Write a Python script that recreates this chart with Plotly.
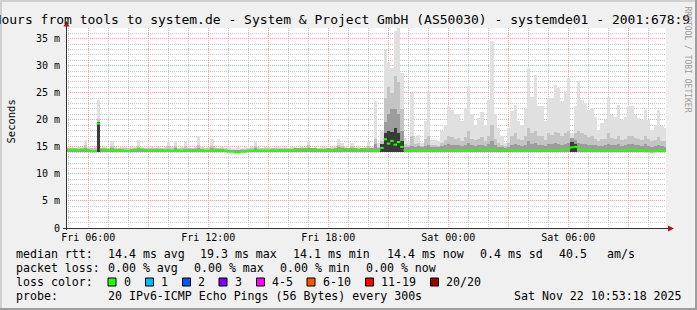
import plotly.graph_objects as go
import pandas as pd

# ---------------- data ----------------
# 10-minute bins over the last 30 hours
bin_start = pd.date_range("2025-11-21 04:56", periods=180, freq="10min")

smoke_floor = 14.1  # fastest ping (ms)

light_top = [
    14.9, 15.0, 14.8, 14.9, 15.0, 16.3, 14.9, 14.8, 15.0, 23.7,
    15.0, 14.9, 14.8, 16.1, 14.9, 14.8, 15.0, 14.9, 14.8, 14.9,
    15.0, 16.3, 14.9, 14.8, 14.9, 15.0, 14.8, 14.9, 14.8, 14.9,
    15.9, 14.9, 16.1, 14.8, 14.9, 15.9, 14.9, 14.8, 15.0, 17.0,
    14.9, 14.8, 14.9, 16.5, 15.0, 14.8, 14.9, 14.8, 14.9, 14.8,
    14.8, 14.9, 14.8, 14.9, 14.8, 15.0, 15.9, 14.9, 14.8, 14.9,
    14.9, 14.8, 14.9, 15.0, 14.8, 14.9, 14.8, 14.9, 15.0, 14.8,
    14.9, 15.0, 16.1, 14.8, 14.9, 14.8, 14.9, 15.0, 14.8, 14.9,
    15.0, 16.4, 15.8, 14.9, 14.8, 15.7, 15.0, 14.9, 14.8, 15.0,
    15.9, 15.0, 23.5, 15.8, 18.0, 32.9, 30.5, 29.5, 36.5, 36.9,
    28.6, 16.6, 16.0, 25.0, 16.9, 17.2, 15.7, 19.7, 25.3, 16.3,
    16.3, 16.0, 17.9, 19.1, 22.5, 21.9, 21.0, 21.0, 19.7, 22.2,
    26.2, 21.0, 19.1, 20.3, 21.4, 19.1, 23.7, 34.5, 21.0, 18.5,
    17.0, 15.8, 18.5, 21.6, 22.8, 19.7, 19.1, 22.2, 29.6, 24.3,
    28.3, 22.5, 22.5, 19.7, 24.0, 24.0, 26.5, 25.9, 23.4, 25.3,
    27.7, 17.5, 22.5, 27.1, 23.7, 23.1, 21.9, 22.2, 20.6, 18.2,
    19.4, 20.0, 24.3, 20.9, 20.6, 22.8, 20.0, 20.6, 22.5, 22.5,
    20.9, 20.3, 20.0, 21.9, 20.0, 18.2, 19.1, 21.9, 18.8, 18.5,
]

mid_top = [
    14.8, 14.8, 14.7, 14.8, 14.8, 15.3, 14.8, 14.7, 14.7, 20.2,
    14.8, 14.8, 14.7, 15.2, 14.8, 14.7, 14.8, 14.7, 14.7, 14.8,
    14.8, 15.2, 14.8, 14.7, 14.8, 14.8, 14.7, 14.8, 14.7, 14.7,
    15.1, 14.7, 15.2, 14.7, 14.7, 15.1, 14.8, 14.7, 14.8, 15.4,
    14.8, 14.7, 14.7, 15.2, 14.8, 14.7, 14.8, 14.7, 14.6, 14.5,
    14.5, 14.5, 14.6, 14.6, 14.7, 14.7, 15.1, 14.7, 14.7, 14.7,
    14.7, 14.7, 14.8, 14.8, 14.7, 14.8, 14.7, 14.8, 14.8, 14.8,
    14.8, 14.8, 15.3, 14.8, 14.8, 14.7, 14.8, 14.8, 14.8, 14.8,
    14.8, 15.4, 15.2, 14.8, 14.8, 15.2, 14.8, 14.8, 14.8, 14.8,
    15.2, 14.8, 16.5, 15.0, 16.0, 24.0, 26.0, 25.0, 28.0, 27.0,
    22.0, 15.5, 15.3, 17.0, 15.6, 15.8, 15.2, 16.5, 17.0, 15.4,
    15.3, 15.2, 15.8, 16.2, 17.0, 16.8, 16.5, 16.6, 16.0, 16.8,
    18.0, 16.5, 16.2, 16.4, 16.8, 16.0, 17.0, 19.0, 16.5, 15.8,
    15.4, 15.1, 15.8, 17.0, 17.5, 16.5, 16.2, 17.0, 18.5, 17.5,
    18.0, 17.0, 17.0, 16.2, 17.5, 17.2, 17.8, 17.5, 17.0, 17.5,
    18.0, 16.2, 17.5, 18.0, 17.5, 17.2, 16.8, 17.0, 16.5, 16.0,
    16.4, 16.5, 17.5, 16.6, 16.5, 17.0, 16.3, 16.5, 17.0, 17.0,
    16.6, 16.5, 16.3, 17.0, 16.4, 16.0, 16.2, 16.8, 16.1, 16.0,
]

dark_top = [
    14.6, 14.6, 14.6, 14.6, 14.6, 14.7, 14.6, 14.5, 14.5, 19.6,
    14.6, 14.6, 14.6, 14.7, 14.6, 14.6, 14.6, 14.5, 14.5, 14.6,
    14.6, 14.7, 14.6, 14.6, 14.6, 14.6, 14.6, 14.6, 14.6, 14.5,
    14.6, 14.5, 14.7, 14.5, 14.5, 14.6, 14.6, 14.6, 14.6, 14.8,
    14.6, 14.5, 14.5, 14.7, 14.6, 14.6, 14.6, 14.5, 14.4, 14.3,
    14.3, 14.3, 14.4, 14.4, 14.5, 14.5, 14.7, 14.5, 14.5, 14.5,
    14.5, 14.6, 14.6, 14.6, 14.6, 14.6, 14.6, 14.6, 14.7, 14.7,
    14.7, 14.7, 14.8, 14.7, 14.7, 14.6, 14.6, 14.6, 14.7, 14.6,
    14.7, 14.9, 14.8, 14.7, 14.7, 14.8, 14.7, 14.6, 14.7, 14.7,
    14.8, 14.7, 15.5, 14.8, 15.3, 19.5, 21.0, 22.0, 22.0, 21.0,
    18.0, 15.0, 14.9, 15.2, 15.0, 15.1, 14.9, 15.2, 15.3, 15.0,
    15.0, 14.9, 15.1, 15.3, 15.5, 15.4, 15.3, 15.3, 15.1, 15.4,
    15.8, 15.3, 15.2, 15.3, 15.4, 15.1, 15.5, 16.0, 15.3, 15.0,
    14.9, 14.8, 15.0, 15.4, 15.6, 15.3, 15.2, 15.4, 16.0, 15.6,
    15.8, 15.4, 15.4, 15.2, 15.6, 15.5, 15.7, 15.6, 15.4, 15.6,
    15.8, 16.6, 16.2, 15.8, 15.6, 15.5, 15.4, 15.4, 15.3, 15.1,
    15.2, 15.3, 15.6, 15.3, 15.3, 15.5, 15.2, 15.3, 15.5, 15.5,
    15.3, 15.3, 15.2, 15.5, 15.2, 15.0, 15.1, 15.4, 15.1, 15.0,
]

core_bins = [9, 94, 95, 96, 97, 98, 99, 100, 151, 152]
core_top = [19.5, 15.5, 17.5, 18.0, 17.8, 18.5, 17.5, 16.0, 15.9, 15.6]

median_rtt = [
    14.5, 14.5, 14.5, 14.4, 14.5, 14.5, 14.4, 14.2, 14.2, 19.3,
    14.5, 14.5, 14.4, 14.5, 14.4, 14.4, 14.4, 14.3, 14.2, 14.4,
    14.5, 14.6, 14.5, 14.4, 14.4, 14.4, 14.4, 14.4, 14.4, 14.3,
    14.3, 14.3, 14.3, 14.3, 14.3, 14.4, 14.4, 14.4, 14.4, 14.4,
    14.4, 14.2, 14.3, 14.4, 14.4, 14.4, 14.4, 14.3, 14.1, 14.1,
    14.0, 14.0, 14.1, 14.1, 14.3, 14.3, 14.3, 14.3, 14.3, 14.3,
    14.3, 14.4, 14.4, 14.4, 14.4, 14.4, 14.4, 14.4, 14.5, 14.5,
    14.5, 14.5, 14.5, 14.5, 14.5, 14.4, 14.4, 14.4, 14.5, 14.4,
    14.5, 14.5, 14.4, 14.5, 14.5, 14.5, 14.5, 14.4, 14.5, 14.5,
    14.5, 14.4, 14.4, 14.4, 14.8, 16.4, 15.6, 16.1, 15.4, 15.9,
    15.0, 14.4, 14.4, 14.4, 14.4, 14.4, 14.4, 14.4, 14.4, 14.4,
    14.4, 14.4, 14.4, 14.5, 14.5, 14.4, 14.4, 14.4, 14.4, 14.4,
    14.4, 14.5, 14.5, 14.5, 14.5, 14.4, 14.5, 14.5, 14.5, 14.5,
    14.4, 14.4, 14.4, 14.4, 14.4, 14.4, 14.5, 14.4, 14.4, 14.5,
    14.4, 14.4, 14.4, 14.5, 14.5, 14.4, 14.4, 14.4, 14.5, 14.5,
    14.6, 14.9, 15.0, 14.7, 14.5, 14.5, 14.4, 14.4, 14.4, 14.4,
    14.4, 14.4, 14.3, 14.4, 14.4, 14.4, 14.4, 14.4, 14.5, 14.5,
    14.5, 14.4, 14.4, 14.2, 14.2, 14.1, 14.2, 14.4, 14.4, 14.3,
]

y_tick_vals = [0, 5, 10, 15, 20, 25, 30, 35]
y_tick_text = ["0", "5 m", "10 m", "15 m", "20 m", "25 m", "30 m", "35 m"]
x_tick_vals = ["2025-11-21 06:00", "2025-11-21 09:00", "2025-11-21 12:00",
               "2025-11-21 15:00", "2025-11-21 18:00", "2025-11-21 21:00",
               "2025-11-22 00:00", "2025-11-22 03:00", "2025-11-22 06:00",
               "2025-11-22 09:00"]
x_tick_text = ["Fri 06:00", "", "Fri 12:00", "", "Fri 18:00", "",
               "Sat 00:00", "", "Sat 06:00", ""]

rtt_stats = [("avg", 14.4), ("max", 19.3), ("min", 14.1), ("now", 14.4)]
rtt_sd = 0.4
am_s = 40.5
loss_stats = [("avg", 0.00), ("max", 0.00), ("min", 0.00), ("now", 0.00)]
loss_labels = ["0", "1", "2", "3", "4-5", "6-10", "11-19", "20/20"]
loss_colors = ["#26ff00", "#00b8ff", "#0059ff", "#7e00ff", "#ff00ff",
               "#ff5500", "#ff0000", "#a10000"]

title_text = ("Last 30 Hours from tools to system.de - System & Project GmbH "
              "(AS50030) - systemde01 - 2001:678:9")
probe_text = "20 IPv6-ICMP Echo Pings (56 Bytes) every 300s"
stamp_text = "Sat Nov 22 10:53:18 2025"

# ---------------- layout geometry (pixels) ----------------
FW, FH = 697, 310
L, T, W, H = 66, 28, 600, 200
MONO = "DejaVu Sans Mono"
FS = 11.6
AXFS = 10


def fx(px):
    return (px - L) / W


def fy(py):
    return (T + H - py) / H


centers = bin_start + pd.Timedelta(minutes=5)
bw = 10 * 60 * 1000

fig = go.Figure()


def smoke(tops, color, xs=None):
    xs = centers if xs is None else xs
    fig.add_trace(go.Bar(
        x=xs, y=[t - smoke_floor for t in tops], base=smoke_floor,
        width=bw, marker=dict(color=color, line=dict(width=0)),
        showlegend=False, hoverinfo="skip"))


smoke(light_top, "#e0e0e0")
smoke(mid_top, "#c4c4c4")
smoke(dark_top, "#9c9c9c")
smoke(core_top, "#3a3a3a", xs=[centers[i] for i in core_bins])

fig.add_trace(go.Scatter(
    x=centers, y=median_rtt, mode="markers",
    marker=dict(symbol="line-ew", size=2.5, color=loss_colors[0],
                line=dict(width=2, color=loss_colors[0])),
    showlegend=False, hoverinfo="skip"))

grid_major = "#f7a3a3"
grid_minor = "#c8c8c8"

fig.update_layout(
    width=FW, height=FH,
    margin=dict(l=L, r=FW - L - W, t=T, b=FH - T - H, pad=0),
    paper_bgcolor="#f0f0f0", plot_bgcolor="#ffffff",
    barmode="overlay", bargap=0,
    font=dict(family=MONO, size=FS, color="#000000"),
    xaxis=dict(
        type="date",
        range=["2025-11-21 04:53:18", "2025-11-22 10:53:18"],
        tickmode="array", tickvals=x_tick_vals, ticktext=x_tick_text,
        showgrid=True, gridcolor=grid_major, griddash="1px,1px", gridwidth=1,
        minor=dict(tickmode="linear", tick0="2025-11-21 00:00", dtick=3600000,
                   showgrid=True, gridcolor=grid_minor, griddash="1px,1px",
                   gridwidth=1),
        showline=False, zeroline=False, ticks="",
        tickfont=dict(family=MONO, size=AXFS, color="#000"),
        ticklabelstandoff=2,
        fixedrange=True,
    ),
    yaxis=dict(
        range=[0, H / 5.411],
        tickmode="array", tickvals=y_tick_vals, ticktext=y_tick_text,
        showgrid=True, gridcolor=grid_major, griddash="1px,1px", gridwidth=1,
        minor=dict(tickmode="linear", tick0=0, dtick=1, showgrid=True,
                   gridcolor=grid_minor, griddash="1px,1px", gridwidth=1),
        showline=False, zeroline=False, ticks="",
        tickfont=dict(family=MONO, size=AXFS, color="#000"),
        ticklabelstandoff=5,
        fixedrange=True,
    ),
)

shapes = []
# axes
axis_col = "#303030"
arrow_col = "#a01818"
shapes.append(dict(type="line", xref="paper", yref="paper",
                   x0=fx(66.5), x1=fx(66.5), y0=fy(230), y1=fy(24),
                   line=dict(color=axis_col, width=1)))
shapes.append(dict(type="line", xref="paper", yref="paper",
                   x0=fx(63), x1=fx(670), y0=fy(228.5), y1=fy(228.5),
                   line=dict(color=axis_col, width=1)))
shapes.append(dict(type="path", xref="paper", yref="paper",
                   path=f"M {fx(63.5)} {fy(26.5)} L {fx(69.5)} {fy(26.5)} L {fx(66.5)} {fy(21)} Z",
                   fillcolor=arrow_col, line=dict(width=0)))
shapes.append(dict(type="path", xref="paper", yref="paper",
                   path=f"M {fx(668)} {fy(225.5)} L {fx(668)} {fy(231.5)} L {fx(674)} {fy(228.5)} Z",
                   fillcolor=arrow_col, line=dict(width=0)))
# bevel border
shapes.append(dict(type="rect", xref="paper", yref="paper",
                   x0=fx(0), x1=fx(FW), y0=fy(0), y1=fy(2),
                   fillcolor="#d0d0d0", line=dict(width=0)))
shapes.append(dict(type="rect", xref="paper", yref="paper",
                   x0=fx(0), x1=fx(2), y0=fy(0), y1=fy(FH),
                   fillcolor="#d0d0d0", line=dict(width=0)))
shapes.append(dict(type="rect", xref="paper", yref="paper",
                   x0=fx(0), x1=fx(FW), y0=fy(FH - 2), y1=fy(FH),
                   fillcolor="#9e9e9e", line=dict(width=0)))
shapes.append(dict(type="rect", xref="paper", yref="paper",
                   x0=fx(FW - 2), x1=fx(FW), y0=fy(0), y1=fy(FH),
                   fillcolor="#9e9e9e", line=dict(width=0)))

# loss colour swatches
swatch_x = [108, 145.5, 182.5, 219, 256.5, 307, 365.5, 430.5]
label_x = [122.5, 159.5, 197, 233.5, 271, 321.5, 379.5, 444.5]
for sx, col in zip(swatch_x, loss_colors):
    shapes.append(dict(type="rect", xref="paper", yref="paper",
                       x0=fx(sx), x1=fx(sx + 8), y0=fy(278), y1=fy(286),
                       fillcolor=col, line=dict(color="#000", width=1)))

annotations = []


def text(s, px, py, size=FS, xanchor="left", color="#000", angle=0):
    annotations.append(dict(
        text=s, x=fx(px), y=fy(py), xref="paper", yref="paper",
        xanchor=xanchor, yanchor="middle", showarrow=False,
        font=dict(family=MONO, size=size, color=color),
        textangle=angle, borderpad=0))


text(title_text, -70, 19.5, size=13)
text("Seconds", 10.5, 122, size=10.5, xanchor="center", angle=-90)
text("RRDTOOL / TOBI OETIKER", 687.5, 59, size=8, xanchor="center",
     color="#9a9a9a", angle=90)

row_y = [254, 268, 282, 296]
text("median rtt:", 15, row_y[0])
for (lbl, v), px in zip(rtt_stats, [106.5, 199, 291.5, 386]):
    text(f"{v:.1f} ms {lbl}", px, row_y[0])
text(f"{rtt_sd:.1f} ms sd", 478.5, row_y[0])
text(f"{am_s:.1f}", 557.5, row_y[0])
text("am/s", 606, row_y[0])

text("packet loss:", 15, row_y[1])
for (lbl, v), px in zip(loss_stats, [106.5, 192.5, 278.5, 364.5]):
    text(f"{v:.2f} % {lbl}", px, row_y[1])

text("loss color:", 15, row_y[2])
for lbl, px in zip(loss_labels, label_x):
    text(lbl, px, row_y[2])

text("probe:", 15, row_y[3])
text(probe_text, 106.5, row_y[3])
text(stamp_text, 512.5, row_y[3])

fig.update_layout(shapes=shapes, annotations=annotations)

fig.write_html("out.html", config={"displayModeBar": False})
